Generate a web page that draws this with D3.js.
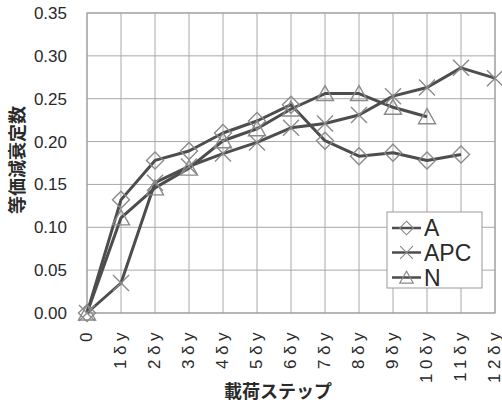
<!DOCTYPE html>
<html><head><meta charset="utf-8">
<script src="https://cdn.jsdelivr.net/npm/d3@7"></script>
<style>body{margin:0;background:#fff}svg{display:block}</style>
</head><body>
<svg id="c" width="502" height="405"></svg>
<script>
const categories = ["0","1δy","2δy","3δy","4δy","5δy","6δy","7δy","8δy","9δy","10δy","11δy","12δy"];
const seriesA   = [0, 0.132, 0.178, 0.189, 0.210, 0.224, 0.243, 0.201, 0.183, 0.187, 0.178, 0.185];
const seriesAPC = [0, 0.035, 0.152, 0.171, 0.186, 0.199, 0.216, 0.221, 0.231, 0.253, 0.263, 0.286, 0.274];
const seriesN   = [0, 0.111, 0.146, 0.169, 0.201, 0.215, 0.238, 0.256, 0.256, 0.240, 0.229];
const yTicks = [0, 0.05, 0.10, 0.15, 0.20, 0.25, 0.30, 0.35];
const seriesNames = ["A", "APC", "N"];
const xTitle = "載荷ステップ";
const yTitle = "等価減衰定数";

const svg = d3.select("#c");
const L = 87, R = 495, T = 13, B = 313;
const x = d3.scalePoint().domain(categories).range([L, R]);
const y = d3.scaleLinear().domain([0, 0.35]).range([B, T]);

const lineCol = "#4d4d4d", markCol = "#8a8a8a", gridCol = "#a8a8a8", textCol = "#2a2a2a";

// grid
const g = svg.append("g");
g.selectAll("line.h").data(yTicks).join("line")
  .attr("x1", L).attr("x2", R).attr("y1", d => y(d)).attr("y2", d => y(d))
  .attr("stroke", gridCol).attr("stroke-width", 1);
g.selectAll("line.v").data(categories).join("line")
  .attr("x1", d => x(d)).attr("x2", d => x(d)).attr("y1", T).attr("y2", B)
  .attr("stroke", gridCol).attr("stroke-width", 1);
g.append("rect").attr("x", L).attr("y", T).attr("width", R - L).attr("height", B - T)
  .attr("fill", "none").attr("stroke", "#999").attr("stroke-width", 1);

// y axis
const yAxis = d3.axisLeft(y).tickValues(yTicks).tickFormat(d3.format(".2f")).tickSize(0).tickPadding(20);
const ya = svg.append("g").attr("transform", `translate(${L},0)`).call(yAxis);
ya.select(".domain").remove();
ya.selectAll("text").attr("font-family", "Liberation Sans, Arial, sans-serif")
  .attr("font-size", 17).attr("fill", textCol);

// x axis
const xAxis = d3.axisBottom(x).tickSize(0).tickPadding(0);
const xa = svg.append("g").attr("transform", `translate(0,${B})`).call(xAxis);
xa.select(".domain").remove();
xa.selectAll("text")
  .attr("font-family", "Liberation Sans, Arial, sans-serif")
  .attr("font-size", 17).attr("fill", textCol)
  .attr("letter-spacing", "4.5px")
  .attr("text-anchor", "end")
  .attr("transform", "translate(0,15) rotate(-90)")
  .attr("x", 0).attr("y", 0).attr("dy", "0.26em");

// titles
svg.append("text").attr("x", 278).attr("y", 398).attr("text-anchor", "middle")
  .attr("font-family", "Noto Sans CJK JP, sans-serif").attr("font-weight", "bold")
  .attr("font-size", 18).attr("fill", textCol).text(xTitle);
svg.append("text").attr("transform", "translate(24,160) rotate(-90)").attr("text-anchor", "middle")
  .attr("font-family", "Noto Sans CJK JP, sans-serif").attr("font-weight", "bold")
  .attr("font-size", 18).attr("fill", textCol).text(yTitle);

// markers
function marker(sel, type) {
  if (type === "A") {
    sel.append("path").attr("d", "M0,-8.5L8.5,0L0,8.5L-8.5,0Z");
  } else if (type === "APC") {
    sel.append("path").attr("d", "M-8,-8L8,8M-8,8L8,-8");
  } else {
    sel.append("path").attr("d", "M0,-8L8.5,7L-8.5,7Z");
  }
  sel.selectAll("path").attr("fill", "none").attr("stroke", markCol).attr("stroke-width", 1.4);
}

const data = [seriesA, seriesAPC, seriesN];
const line = d3.line().x((d, i) => x(categories[i])).y(d => y(d));
data.forEach((s, k) => {
  svg.append("path").datum(s).attr("d", line).attr("fill", "none")
    .attr("stroke", lineCol).attr("stroke-width", 3).attr("stroke-linejoin", "round");
});
data.forEach((s, k) => {
  svg.append("g").selectAll("g").data(s).join("g")
    .attr("transform", (d, i) => `translate(${x(categories[i])},${y(d)})`)
    .each(function () { marker(d3.select(this), seriesNames[k]); });
});

// legend
const lg = svg.append("g");
lg.append("rect").attr("x", 387).attr("y", 212).attr("width", 95).attr("height", 76)
  .attr("fill", "#fff").attr("stroke", "#999").attr("stroke-width", 1);
const rowY = [228, 252.5, 277.5];
seriesNames.forEach((n, i) => {
  const r = lg.append("g").attr("transform", `translate(0,${rowY[i]})`);
  r.append("line").attr("x1", 392).attr("x2", 421).attr("y1", 0).attr("y2", 0)
    .attr("stroke", lineCol).attr("stroke-width", 2.5);
  const m = r.append("g").attr("transform", "translate(406.5,0) scale(0.8)");
  marker(m, n);
  r.append("text").attr("x", 424).attr("y", 0).attr("dy", "0.36em")
    .attr("font-family", "Liberation Sans, Arial, sans-serif").attr("font-size", 23)
    .attr("fill", textCol).text(n);
});
</script>
</body></html>
